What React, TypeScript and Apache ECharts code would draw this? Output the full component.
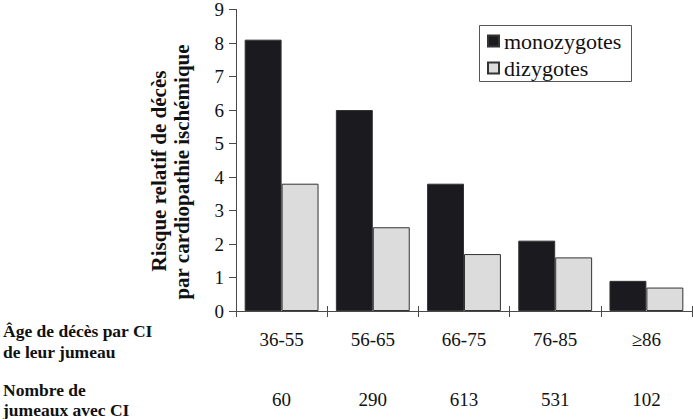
import React, { useEffect, useRef } from "react";
import * as echarts from "echarts";

const categories = ["36-55", "56-65", "66-75", "76-85", "≥86"];
const counts = ["60", "290", "613", "531", "102"];
const monozygotes = [8.1, 6.0, 3.8, 2.1, 0.9];
const dizygotes = [3.8, 2.5, 1.7, 1.6, 0.7];
const yTitleLines = ["Risque relatif de décès", "par cardiopathie ischémique"];
const rowLabels1 = ["Âge de décès par CI", "de leur jumeau"];
const rowLabels2 = ["Nombre de", "jumeaux avec CI"];

const FONT = "Liberation Serif";
const AXIS = "#4a4a4a";

export default function App() {
  const ref = useRef<HTMLDivElement>(null);
  useEffect(() => {
    document.body.style.margin = "0";
    const chart = echarts.init(ref.current!, null, { renderer: "svg" });
    const boldText = (text: string, x: number, y: number, size: number, rot = 0) => ({
      type: "text",
      x,
      y,
      rotation: rot,
      style: {
        text,
        fontFamily: FONT,
        fontSize: size,
        fontWeight: "bold",
        fill: "#111",
        align: rot ? "center" : "left",
        verticalAlign: "middle",
      },
    });
    chart.setOption({
      animation: false,
      grid: { left: 236, right: 1, top: 9, bottom: 108, containLabel: false },
      legend: {
        orient: "vertical",
        left: 479,
        top: 25,
        borderWidth: 0,
        padding: [5, 18, 4, 8],
        itemWidth: 11,
        itemHeight: 11,
        itemGap: 5,
        icon: "rect",
        textStyle: { fontFamily: FONT, fontSize: 22, lineHeight: 21, color: "#111" },
        data: ["monozygotes", "dizygotes"],
      },
      xAxis: [
        {
          type: "category",
          data: categories,
          axisLine: { lineStyle: { color: AXIS, width: 1 } },
          axisTick: { show: true, length: 6, lineStyle: { color: AXIS } },
          axisLabel: { fontFamily: FONT, fontSize: 19, color: "#111", margin: 19 },
        },
        {
          type: "category",
          data: counts,
          position: "bottom",
          offset: 60,
          axisLine: { show: false },
          axisTick: { show: false },
          axisLabel: { fontFamily: FONT, fontSize: 19, color: "#111", margin: 19 },
        },
        {
          type: "category",
          data: categories,
          position: "bottom",
          axisLine: { show: false },
          axisTick: { show: true, inside: true, length: 5, lineStyle: { color: AXIS } },
          axisLabel: { show: false },
        },
      ],
      yAxis: {
        type: "value",
        min: 0,
        max: 9,
        interval: 1,
        axisLine: { show: true, lineStyle: { color: AXIS, width: 1 } },
        axisTick: { show: true, length: 7, lineStyle: { color: AXIS } },
        splitLine: { show: false },
        axisLabel: { fontFamily: FONT, fontSize: 19, color: "#111", margin: 12 },
      },
      series: [
        {
          name: "monozygotes",
          type: "bar",
          data: monozygotes,
          barGap: "0%",
          barCategoryGap: "19%",
          itemStyle: { color: "#1b1a1f", borderColor: "#333", borderWidth: 1 },
        },
        {
          name: "dizygotes",
          type: "bar",
          data: dizygotes,
          barGap: "0%",
          barCategoryGap: "19%",
          itemStyle: { color: "#dcdcdc", borderColor: "#333", borderWidth: 1 },
        },
      ],
      graphic: [
        {
          type: "rect",
          shape: { x: 479.5, y: 25.5, width: 152, height: 56 },
          style: { fill: "none", stroke: "#555", lineWidth: 1 },
        },
        boldText(yTitleLines[0], 159, 171, 21, Math.PI / 2),
        boldText(yTitleLines[1], 182, 172, 21, Math.PI / 2),
        boldText(rowLabels1[0], 3, 331, 17.5),
        boldText(rowLabels1[1], 3, 352, 17.5),
        boldText(rowLabels2[0], 3, 390, 17.5),
        boldText(rowLabels2[1], 3, 410, 17.5),
      ],
    });
    return () => chart.dispose();
  }, []);
  return <div ref={ref} style={{ width: 693, height: 419 }} />;
}
